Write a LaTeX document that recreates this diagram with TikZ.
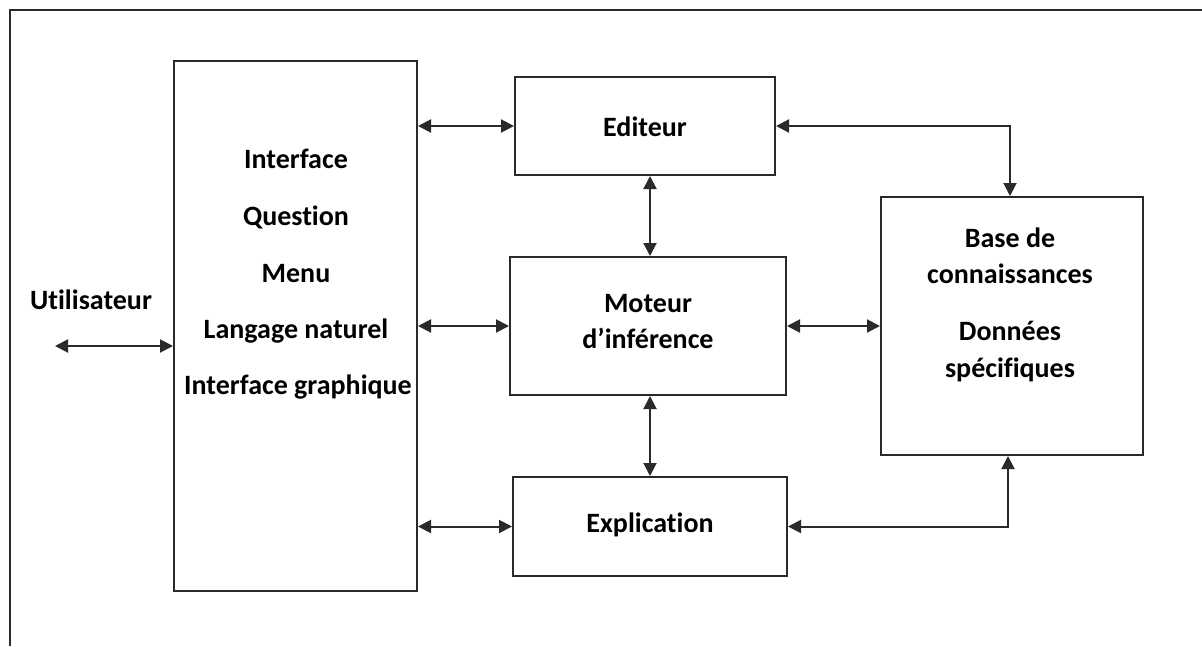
\documentclass[tikz,border=0pt]{standalone}
\usepackage{fontspec}
\setmainfont{Carlito}[Ligatures=NoCommon]
\usetikzlibrary{arrows.meta}
\definecolor{ink}{HTML}{2A2A2A}
\begin{document}
\begin{tikzpicture}[x=1pt,y=-1pt,
  box/.style={draw=ink,line width=2pt,minimum width=#1,inner sep=0pt},
  lbl/.style={font=\fontsize{28}{32}\selectfont\bfseries,anchor=base,inner sep=0pt},
  tip/.tip={Triangle[length=13pt,width=13pt]},
  link/.style={draw=ink,line width=2pt,tip-tip}]
\useasboundingbox (0,0) rectangle (1202,646);
% outer frame (top and left edges)
\draw[ink,line width=2pt] (1202,10) -- (10,10) -- (10,646);

% blocks
\node[box=243pt,minimum height=530pt] (ui) at (295.5,326) {};
\node[box=260pt,minimum height=98pt] (edit) at (645,126) {};
\node[box=276pt,minimum height=138pt] (mot) at (648,326) {};
\node[box=262pt,minimum height=258pt] (base) at (1012,326) {};
\node[box=274pt,minimum height=99pt] (expl) at (650,526.5) {};

% texts
\node[lbl] (t1) at (296,168) {Interface};
\node[lbl] (t2) at (296,225) {Question};
\node[lbl] (t3) at (296,282) {Menu};
\node[lbl] (t4) at (296,338) {Langage naturel};
\node[lbl] (t5) at (298,394) {Interface graphique};
\node[lbl] (tu) at (91,309) {Utilisateur};
\node[lbl] (te) at (645,136) {Editeur};
\node[lbl] (tm1) at (648,312) {Moteur};
\node[lbl] (tm2) at (648,348) {d’inférence};
\node[lbl] (tb1) at (1010,247) {Base de};
\node[lbl] (tb2) at (1010,283) {connaissances};
\node[lbl] (tb3) at (1010,340) {Données};
\node[lbl] (tb4) at (1010,377) {spécifiques};
\node[lbl] (tx) at (650,532) {Explication};

% connectors
\coordinate (user) at (55,346);
\coordinate (colm) at (650,0);
\coordinate (colb) at (1010,0);
\coordinate (colc) at (1008,0);
\draw[link] (user) -- (ui.west |- user);
\draw[link] (ui.east |- edit.west) -- (edit.west);
\draw[link] (ui.east |- mot.west) -- (mot.west);
\draw[link] (ui.east |- expl.west) -- (expl.west);
\draw[link] (edit.south -| colm) -- (mot.north -| colm);
\draw[link] (mot.south -| colm) -- (expl.north -| colm);
\draw[link] (mot.east) -- (base.west);
\draw[link] (edit.east) -| (base.north -| colb);
\draw[link] (expl.east) -| (base.south -| colc);
\end{tikzpicture}
\end{document}
